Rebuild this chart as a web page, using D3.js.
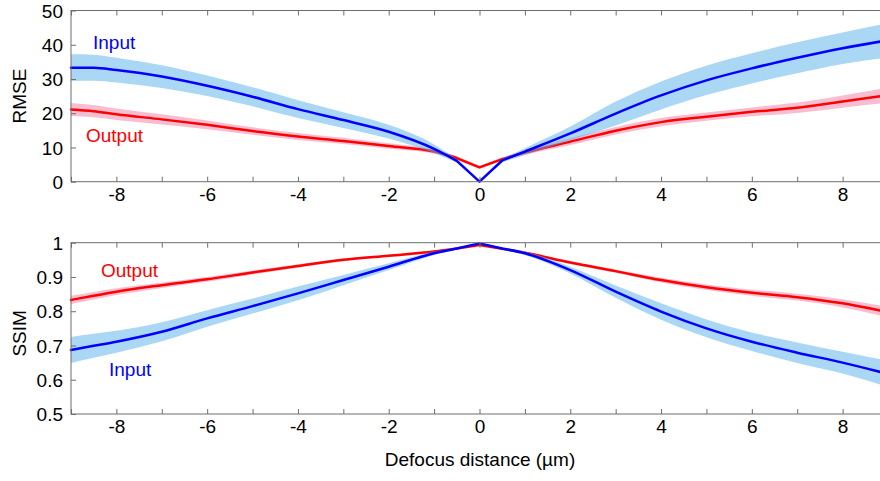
<!DOCTYPE html>
<html>
<head>
<meta charset="utf-8">
<script src="https://cdn.jsdelivr.net/npm/d3@7"></script>
<style>
  html, body { margin: 0; padding: 0; background: #fff; }
  svg { display: block; font-family: "Liberation Sans", Arial, sans-serif; }
</style>
</head>
<body>
<svg id="chart" width="880" height="481"></svg>
<script>
// Defocus positions (µm) at which both metrics were evaluated
const defocus = [-9, -8.5, -8, -7, -6, -5, -4, -3, -2, -1, -0.5, 0, 0.5, 1, 2, 3, 4, 5, 6, 7, 8, 9];

// RMSE: mean and spread for the defocused input and the network output
const rmseInput    = [33.3, 33.3, 32.6, 30.7, 28.0, 24.8, 21.2, 18.0, 14.6, 9.6, 6.1, 0.0, 6.2, 8.8, 14.1, 19.9, 25.2, 29.6, 33.1, 36.2, 39.0, 41.3];
const rmseInputSd  = [3.9, 3.8, 3.6, 3.3, 3.0, 2.8, 2.6, 2.3, 2.0, 1.3, 0.5, 0.1, 0.5, 1.0, 2.0, 3.5, 4.1, 4.3, 4.4, 4.5, 4.6, 5.0];
const rmseOutput   = [21.1, 20.6, 19.7, 18.2, 16.6, 14.8, 13.2, 11.9, 10.4, 8.8, 6.9, 4.2, 6.6, 8.5, 11.7, 14.9, 17.4, 19.0, 20.4, 21.6, 23.4, 25.3];
const rmseOutputSd = [1.9, 1.8, 1.7, 1.5, 1.3, 1.1, 1.0, 0.9, 0.8, 0.6, 0.5, 0.4, 0.5, 0.7, 1.0, 1.1, 1.2, 1.2, 1.3, 1.5, 1.8, 2.2];

// SSIM: mean and spread for the defocused input and the network output
const ssimInput    = [0.687, 0.699, 0.711, 0.740, 0.779, 0.815, 0.852, 0.891, 0.930, 0.969, 0.983, 0.998, 0.983, 0.969, 0.920, 0.857, 0.799, 0.750, 0.711, 0.679, 0.650, 0.617];
const ssimInputSd  = [0.038, 0.035, 0.032, 0.028, 0.024, 0.022, 0.020, 0.015, 0.010, 0.005, 0.003, 0.002, 0.003, 0.005, 0.010, 0.018, 0.024, 0.026, 0.027, 0.030, 0.032, 0.038];
const ssimOutput   = [0.833, 0.845, 0.857, 0.876, 0.893, 0.913, 0.932, 0.950, 0.962, 0.974, 0.983, 0.993, 0.982, 0.971, 0.942, 0.917, 0.891, 0.870, 0.854, 0.841, 0.823, 0.797];
const ssimOutputSd = [0.012, 0.011, 0.010, 0.008, 0.007, 0.006, 0.005, 0.004, 0.003, 0.003, 0.002, 0.002, 0.002, 0.003, 0.004, 0.005, 0.007, 0.008, 0.009, 0.010, 0.012, 0.015];

// Axis ticks
const xTicks     = d3.range(-9, 10, 1);
const xLabels    = [-8, -6, -4, -2, 0, 2, 4, 6, 8];
const rmseTicks  = [0, 10, 20, 30, 40, 50];
const ssimTicks  = [0.5, 0.6, 0.7, 0.8, 0.9, 1];

const svg = d3.select("#chart");
const FONT = 19;
const AXIS = "#6e6e6e";

const x = d3.scaleLinear().domain([-9, 9]).range([71, 888]);

// Curves are smoothed away from focus; the short stretch around focus is kept
// straight so the sharp turn at 0 µm stays sharp.
const idx = defocus.map((d, i) => i);
const pieces = [
  { ids: idx.filter(i => defocus[i] <= -0.5), curve: d3.curveMonotoneX },
  { ids: idx.filter(i => defocus[i] >= -0.5 && defocus[i] <= 0.5), curve: d3.curveLinear },
  { ids: idx.filter(i => defocus[i] >= 0.5), curve: d3.curveMonotoneX }
];

function panel(cfg) {
  const y = d3.scaleLinear().domain(cfg.domain).range([cfg.bottom, cfg.top]);
  const g = svg.append("g");

  const band = (mean, sd) => pieces.map(p => d3.area()
    .curve(p.curve)
    .x(i => x(defocus[i]))
    .y0(i => y(mean[i] - sd[i]))
    .y1(i => y(mean[i] + sd[i]))(p.ids)).join("");
  const line = (mean) => pieces.map(p => d3.line()
    .curve(p.curve)
    .x(i => x(defocus[i]))
    .y(i => y(mean[i]))(p.ids)).join("");

  // bands and lines: output first, input on top
  g.append("path").attr("d", band(cfg.out, cfg.outSd))
    .attr("fill", "rgb(240,125,165)").attr("fill-opacity", 0.5);
  g.append("path").attr("d", line(cfg.out))
    .attr("fill", "none").attr("stroke", "#ff0000").attr("stroke-width", 2.5)
    .attr("stroke-linejoin", "round").attr("stroke-linecap", "round");
  g.append("path").attr("d", band(cfg.inp, cfg.inpSd))
    .attr("fill", "rgb(86,176,234)").attr("fill-opacity", 0.5);
  g.append("path").attr("d", line(cfg.inp))
    .attr("fill", "none").attr("stroke", "#0000ff").attr("stroke-width", 2.5)
    .attr("stroke-linejoin", "round").attr("stroke-linecap", "round");

  // box with inward ticks on all four sides
  const [x0, x1] = x.range();
  g.append("rect").attr("x", x0).attr("y", cfg.top)
    .attr("width", x1 - x0).attr("height", cfg.bottom - cfg.top)
    .attr("fill", "none").attr("stroke", AXIS).attr("stroke-width", 1);

  const bottomAxis = d3.axisBottom(x).tickValues(xTicks).tickSizeInner(-5).tickSizeOuter(0)
    .tickFormat(d => xLabels.includes(d) ? String(d) : "");
  const ba = g.append("g").attr("transform", `translate(0,${cfg.bottom})`).call(bottomAxis);
  const topAxis = d3.axisTop(x).tickValues(xTicks).tickSizeInner(-5).tickSizeOuter(0).tickFormat("");
  const ta = g.append("g").attr("transform", `translate(0,${cfg.top})`).call(topAxis);
  const leftAxis = d3.axisLeft(y).tickValues(cfg.ticks).tickSizeInner(-5).tickSizeOuter(0)
    .tickFormat(d3.format("~g"));
  const la = g.append("g").attr("transform", `translate(${x0},0)`).call(leftAxis);
  const rightAxis = d3.axisRight(y).tickValues(cfg.ticks).tickSizeInner(-5).tickSizeOuter(0).tickFormat("");
  const ra = g.append("g").attr("transform", `translate(${x1},0)`).call(rightAxis);

  [ba, ta, la, ra].forEach(a => {
    a.select(".domain").remove();
    a.selectAll(".tick line").attr("stroke", AXIS);
    a.selectAll("text").attr("font-size", FONT).attr("font-family", "Liberation Sans, Arial, sans-serif")
      .attr("fill", "#000");
  });
  ba.selectAll("text").attr("dy", null).attr("y", 19);
  la.selectAll("text").attr("x", -8).attr("dy", "0.35em");

  // y-axis title
  g.append("text")
    .attr("transform", `translate(${cfg.titleX},${(cfg.top + cfg.bottom) / 2 + cfg.titleDy}) rotate(-90)`)
    .attr("text-anchor", "middle").attr("dy", "0.35em")
    .attr("font-size", FONT).text(cfg.title);

  // series labels
  cfg.labels.forEach(l => {
    g.append("text").attr("x", l.x).attr("y", l.y)
      .attr("font-size", FONT).attr("fill", l.color).text(l.text);
  });
}

panel({
  domain: [0, 50], top: 10.5, bottom: 181.7, ticks: rmseTicks,
  inp: rmseInput, inpSd: rmseInputSd, out: rmseOutput, outSd: rmseOutputSd,
  title: "RMSE", titleX: 19, titleDy: 0,
  labels: [
    { text: "Input", x: 93, y: 49, color: "#0000ff" },
    { text: "Output", x: 86, y: 142, color: "#ff0000" }
  ]
});

panel({
  domain: [0.5, 1], top: 242.7, bottom: 414, ticks: ssimTicks,
  inp: ssimInput, inpSd: ssimInputSd, out: ssimOutput, outSd: ssimOutputSd,
  title: "SSIM", titleX: 19, titleDy: 5,
  labels: [
    { text: "Output", x: 101, y: 277, color: "#ff0000" },
    { text: "Input", x: 109, y: 376, color: "#0000ff" }
  ]
});

// shared x-axis title
svg.append("text").attr("x", 480).attr("y", 466)
  .attr("text-anchor", "middle").attr("font-size", FONT)
  .text("Defocus distance (µm)");
</script>
</body>
</html>
